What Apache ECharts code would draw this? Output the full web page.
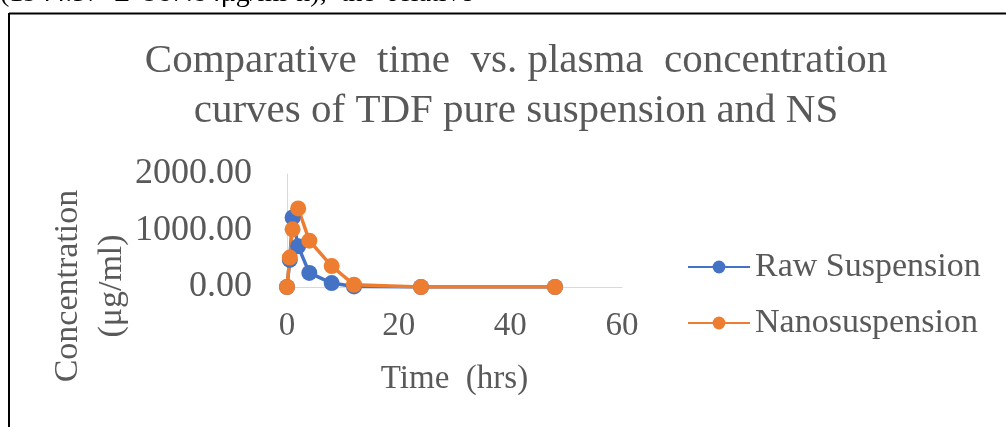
<!DOCTYPE html>
<html><head><meta charset="utf-8">
<script src="https://cdn.jsdelivr.net/npm/echarts@6/dist/echarts.min.js"></script>
<style>html,body{margin:0;padding:0;background:#fff}#c{width:1006px;height:427px}</style>
</head><body><div id="c"></div>
<script>
const timeHrs = [0, 0.5, 1, 2, 4, 8, 12, 24, 48];
const rawSuspension = [0, 480, 1230, 720, 250, 70, 10, 0, 0];
const nanosuspension = [0, 520, 1020, 1390, 820, 370, 40, 0, 0];
const seriesNames = ['Raw Suspension', 'Nanosuspension'];
const titleText = 'Comparative  time  vs. plasma  concentration\ncurves of TDF pure suspension and NS';
const yNameLines = ['Concentration', '(\u03bcg/ml)'];
const xName = 'Time  (hrs)';
const pageText = '(1944.57  \u00b1  987.84\u03bcg/ml\u00b7h),  the  relative';

const serif = '"Liberation Serif", "Times New Roman", serif';
const gray = '#595959';
const chart = echarts.init(document.getElementById('c'), null, {renderer: 'canvas'});
function pts(v){ return timeHrs.map((t,i)=>[t, v[i]]); }
chart.setOption({
  animation: false,
  backgroundColor: '#fff',
  title: {
    text: titleText, left: 511, top: 31, textAlign: 'center',
    textStyle: {fontFamily: serif, fontSize: 41, fontWeight: 'normal', color: gray, lineHeight: 50}
  },
  graphic: [
    {type: 'text', left: 0, top: -20, style: {text: pageText, font: '28px ' + serif, fill: '#000'}},
    {type: 'line', shape: {x1: 9, y1: 13.5, x2: 1006, y2: 13.5}, style: {stroke: '#000', lineWidth: 2}},
    {type: 'line', shape: {x1: 9, y1: 13, x2: 9, y2: 427}, style: {stroke: '#000', lineWidth: 2}},
    {type: 'text', x: 68, y: 286, rotation: Math.PI / 2,
     style: {text: yNameLines[0], font: '34px ' + serif, fill: gray, textAlign: 'center', textVerticalAlign: 'middle'}},
    {type: 'text', x: 112, y: 286, rotation: Math.PI / 2,
     style: {text: yNameLines[1], font: '34px ' + serif, fill: gray, textAlign: 'center', textVerticalAlign: 'middle'}}
  ],
  legend: {
    orient: 'vertical', left: 682, top: 245, itemGap: 22, itemWidth: 62, itemHeight: 16,
    textStyle: {fontFamily: serif, fontSize: 34, color: gray},
    data: seriesNames
  },
  grid: {left: 287, right: 384, top: 174, bottom: 140},
  xAxis: {
    type: 'value', min: 0, max: 60, interval: 20,
    name: xName, nameLocation: 'middle', nameGap: 76,
    nameTextStyle: {fontFamily: serif, fontSize: 33, color: gray},
    axisLine: {show: true, lineStyle: {color: '#d9d9d9', width: 1}},
    axisTick: {show: false}, splitLine: {show: false},
    axisLabel: {fontFamily: serif, fontSize: 33, color: gray, margin: 23}
  },
  yAxis: {
    type: 'value', min: 0, max: 2000, interval: 1000,
    axisLine: {show: true, lineStyle: {color: '#d9d9d9', width: 1}},
    axisTick: {show: false}, splitLine: {show: false},
    axisLabel: {fontFamily: serif, fontSize: 36, color: gray, margin: 35, formatter: v => v.toFixed(2)}
  },
  series: [
    {name: seriesNames[0], type: 'line', data: pts(rawSuspension), symbol: 'circle', symbolSize: 16,
     itemStyle: {color: '#4472C4'}, lineStyle: {color: '#4472C4', width: 3.5}},
    {name: seriesNames[1], type: 'line', data: pts(nanosuspension), symbol: 'circle', symbolSize: 16,
     itemStyle: {color: '#ED7D31'}, lineStyle: {color: '#ED7D31', width: 3.5}}
  ]
});
</script></body></html>
